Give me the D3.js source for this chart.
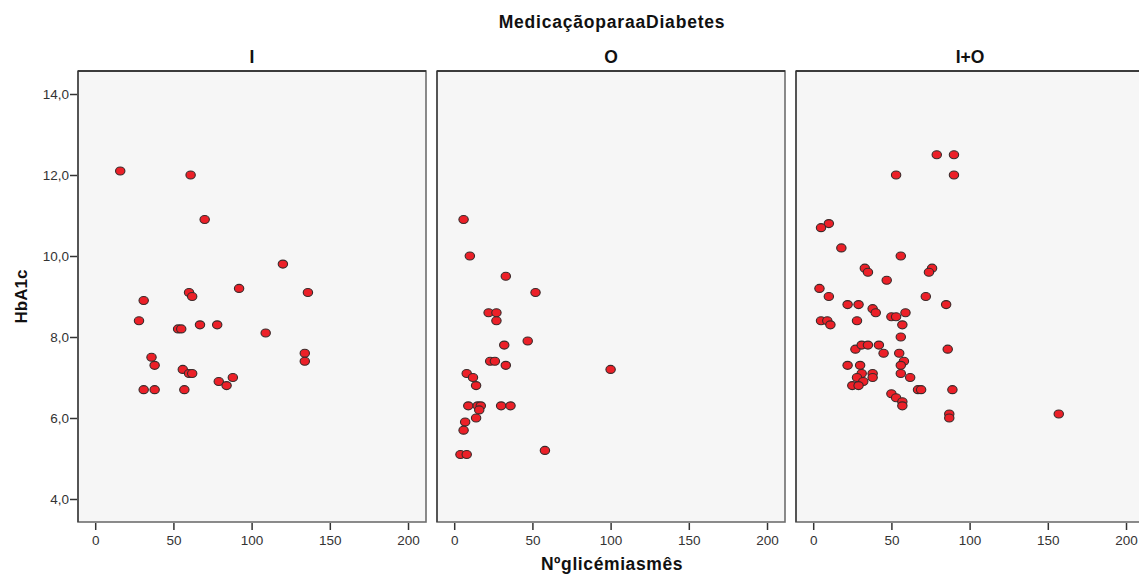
<!DOCTYPE html>
<html>
<head>
<meta charset="utf-8">
<script src="https://cdn.jsdelivr.net/npm/d3@7"></script>
<style>
  body { margin: 0; background: #fff; }
  svg { display: block; font-family: Arial, "Liberation Sans", sans-serif; }
</style>
</head>
<body>
<div id="chart"></div>
<script>
// facets and their points: [Nº glicémias/mês, HbA1c]
var groups = ["I", "O", "I+O"];

var pointsI = [
	[16, 12.1], [61, 12.0], [70, 10.9], [120, 9.8], [92, 9.2], [136, 9.1], [60, 9.1], [62, 9.0],
	[31, 8.9], [28, 8.4], [53, 8.2], [55, 8.2], [67, 8.3], [78, 8.3], [109, 8.1], [134, 7.6],
	[134, 7.4], [36, 7.5], [38, 7.3], [56, 7.2], [60, 7.1], [62, 7.1], [79, 6.9], [88, 7.0],
	[84, 6.8], [31, 6.7], [38, 6.7], [57, 6.7]
];

var pointsO = [
	[6, 10.9], [10, 10.0], [33, 9.5], [52, 9.1], [22, 8.6], [27, 8.6], [27, 8.4], [47, 7.9],
	[32, 7.8], [23, 7.4], [26, 7.4], [33, 7.3], [100, 7.2], [8, 7.1], [12, 7.0], [14, 6.8],
	[9, 6.3], [15, 6.3], [17, 6.3], [16, 6.2], [30, 6.3], [36, 6.3], [14, 6.0], [7, 5.9],
	[6, 5.7], [4, 5.1], [8, 5.1], [58, 5.2]
];

var pointsIO = [
	[79, 12.5], [90, 12.5], [53, 12.0], [90, 12.0], [10, 10.8], [5, 10.7], [18, 10.2], [56, 10.0],
	[33, 9.7], [35, 9.6], [76, 9.7], [74, 9.6], [47, 9.4], [4, 9.2], [10, 9.0], [72, 9.0],
	[22, 8.8], [29, 8.8], [85, 8.8], [38, 8.7], [40, 8.6], [59, 8.6], [50, 8.5], [53, 8.5],
	[5, 8.4], [9, 8.4], [11, 8.3], [28, 8.4], [57, 8.3], [56, 8.0], [27, 7.7], [31, 7.8],
	[35, 7.8], [42, 7.8], [45, 7.6], [55, 7.6], [86, 7.7], [58, 7.4], [56, 7.3], [22, 7.3],
	[30, 7.3], [31, 7.1], [38, 7.1], [56, 7.1], [38, 7.0], [28, 7.0], [62, 7.0], [32, 6.9],
	[25, 6.8], [29, 6.8], [67, 6.7], [69, 6.7], [89, 6.7], [50, 6.6], [53, 6.5], [57, 6.4],
	[57, 6.3], [87, 6.1], [87, 6.0], [157, 6.1]
];

var panelData = [pointsI, pointsO, pointsIO];
var xTicks = [0, 50, 100, 150, 200];
var yTicks = [4, 6, 8, 10, 12, 14];

var width = 1139, height = 574;
var panelLeft = 78, panelStep = 359, panelW = 348;
var panelTop = 71, panelBottom = 522;
var font = "Arial, 'Liberation Sans', sans-serif";

var svg = d3.select("#chart").append("svg")
	.attr("width", width)
	.attr("height", height);

var yScale = d3.scaleLinear()
	.domain([3.432, 14.568])
	.range([panelBottom, panelTop]);

var fmt = function(d) { return d3.format(".1f")(d).replace(".", ","); };

groups.forEach(function(g, i) {
	var x0 = panelLeft + i * panelStep;
	var xScale = d3.scaleLinear()
		.domain([-11, 211.5])
		.range([x0, x0 + panelW]);

	svg.append("rect")
		.attr("x", x0)
		.attr("y", panelTop)
		.attr("width", panelW)
		.attr("height", panelBottom - panelTop)
		.attr("fill", "#f6f6f6")
		.attr("stroke", "#6e6e6e")
		.attr("stroke-width", 1.6);

	svg.append("line")
		.attr("x1", x0).attr("x2", x0 + panelW)
		.attr("y1", panelTop).attr("y2", panelTop)
		.attr("stroke", "#222")
		.attr("stroke-width", 1.6);

	svg.append("line")
		.attr("x1", x0).attr("x2", x0)
		.attr("y1", panelTop).attr("y2", panelBottom)
		.attr("stroke", "#333")
		.attr("stroke-width", 1.2);

	var xAxis = d3.axisBottom(xScale)
		.tickValues(xTicks)
		.tickSize(7)
		.tickSizeOuter(0);

	var xg = svg.append("g")
		.attr("transform", "translate(0," + (panelBottom + 1) + ")")
		.call(xAxis);
	xg.select(".domain").remove();
	xg.selectAll(".tick line").attr("stroke", "#333").attr("stroke-width", 1.5);
	xg.selectAll(".tick text")
		.attr("y", 10)
		.attr("dy", "0.9em")
		.attr("fill", "#333")
		.attr("font-size", 13.5)
		.attr("font-family", font);

	svg.append("text")
		.attr("x", x0 + panelW / 2)
		.attr("y", 63)
		.attr("text-anchor", "middle")
		.attr("font-size", 17.5)
		.attr("font-weight", "bold")
		.attr("fill", "#111")
		.text(g);

	svg.append("g").selectAll("ellipse")
		.data(panelData[i])
		.enter()
		.append("ellipse")
		.attr("cx", function(d) { return xScale(d[0]); })
		.attr("cy", function(d) { return yScale(d[1]); })
		.attr("rx", 4.7)
		.attr("ry", 4)
		.attr("fill", "#ec2028")
		.attr("stroke", "#3a2a2a")
		.attr("stroke-width", 1.1);
});

var yAxis = d3.axisLeft(yScale)
	.tickValues(yTicks)
	.tickFormat(fmt)
	.tickSize(7)
	.tickSizeOuter(0);

var yg = svg.append("g")
	.attr("transform", "translate(" + (panelLeft - 1) + ",0)")
	.call(yAxis);
yg.select(".domain").remove();
yg.selectAll(".tick line").attr("stroke", "#333").attr("stroke-width", 1.5);
yg.selectAll(".tick text")
	.attr("x", -8)
	.attr("fill", "#333")
	.attr("font-size", 13.5)
	.attr("font-family", font);

svg.append("text")
	.attr("x", 612)
	.attr("y", 28)
	.attr("text-anchor", "middle")
	.attr("font-size", 17.5)
	.attr("font-weight", "bold")
	.attr("letter-spacing", 0.8)
	.attr("fill", "#111")
	.text("MedicaçãoparaaDiabetes");

svg.append("text")
	.attr("x", 612)
	.attr("y", 570)
	.attr("text-anchor", "middle")
	.attr("font-size", 17.5)
	.attr("font-weight", "bold")
	.attr("letter-spacing", 0.6)
	.attr("fill", "#111")
	.text("Nºglicémiasmês");

svg.append("text")
	.attr("transform", "translate(27," + ((panelTop + panelBottom) / 2) + ") rotate(-90)")
	.attr("text-anchor", "middle")
	.attr("font-size", 17)
	.attr("font-weight", "bold")
	.attr("fill", "#111")
	.text("HbA1c");
</script>
</body>
</html>
